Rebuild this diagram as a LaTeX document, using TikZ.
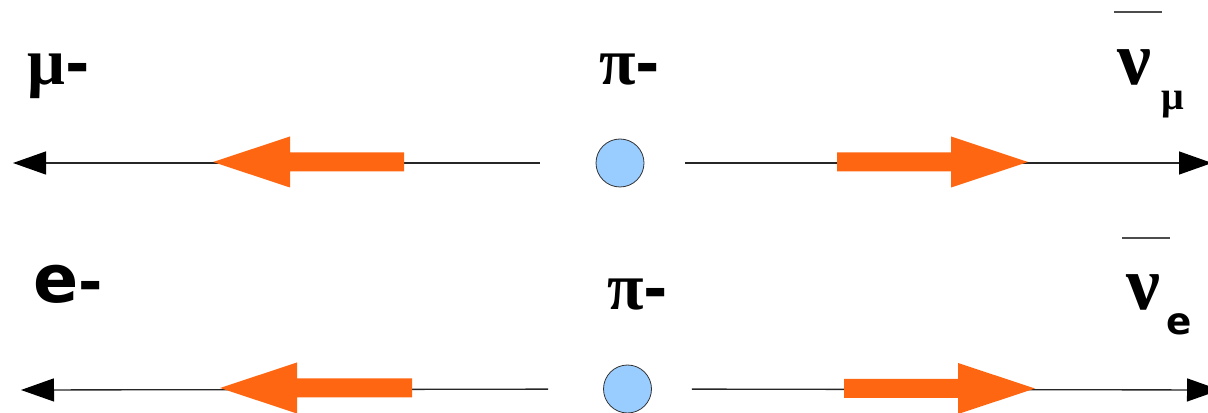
\documentclass[tikz,border=0pt]{standalone}
\usepackage{fontspec}
\setmainfont{DejaVu Sans}
\newfontfamily\grkfont{Liberation Serif}
\usetikzlibrary{arrows.meta}
\definecolor{pulseorange}{RGB}{255,102,17}
\definecolor{pionblue}{RGB}{153,204,255}
\tikzset{
  axis/.style={black!85, line width=1pt, -{Triangle[length=24.75pt,width=17.25pt,black]}},
  pion/.style={circle, draw=black!80, fill=pionblue, minimum size=36pt, inner sep=0pt, line width=0.6pt},
  spin/.style={fill=pulseorange, draw=none},
  lbl/.style={anchor=base west, inner sep=0pt, font=\fontsize{50}{56}\selectfont\bfseries},
  grk/.style={anchor=base west, inner sep=0pt, font=\grkfont\fontsize{57}{60}\selectfont\bfseries},
  sublbl/.style={anchor=base west, inner sep=0pt, font=\fontsize{28}{30}\selectfont\bfseries},
  subgrk/.style={anchor=base west, inner sep=0pt, font=\grkfont\fontsize{30}{32}\selectfont\bfseries},
  overbar/.style={black!70, line width=0.9pt}
}
\begin{document}
\begin{tikzpicture}[x=0.75pt, y=-0.75pt]
    \useasboundingbox (0,0) rectangle (1208,413);

    % Upper decay: pi- -> mu- + anti nu_mu
    \node[pion] (pionTop) at (620,163) {};
    \coordinate (muEnd) at (13,163);
    \coordinate (numuEnd) at (1212,163);
    \draw[axis, shorten <=42pt] (pionTop) -- (muEnd);
    \draw[axis, shorten <=30.75pt] (pionTop) -- (numuEnd);

    % spin arrows (upper)
    \fill[spin] (404,152.5) -- (290,152.5) -- (290,136.5) -- (213,162) -- (290,187.5) -- (290,171.5) -- (404,171.5) -- cycle;
    \fill[spin] (837,152.5) -- (951,152.5) -- (951,136.5) -- (1028,162) -- (951,187.5) -- (951,171.5) -- (837,171.5) -- cycle;

    % labels (upper)
    \node[lbl] (muLbl) at (27,85) {{\grkfont μ}\fontsize{44}{50}\selectfont-};
    \node[lbl] (piTopLbl) at (599,85) {{\grkfont π}\fontsize{44}{50}\selectfont-};
    \node[grk] (numuLbl) at (1117,85) {ν};
    \node[subgrk] (numuSub) at (1161,110) {μ};
    \draw[overbar] (1114,12) -- (1162,12);

    % Lower decay: pi- -> e- + anti nu_e
    \node[pion] (pionBot) at (627.5,389) {};
    \coordinate (eEnd) at (21,390);
    \coordinate (nueEnd) at (1220,390);
    \draw[axis, shorten <=41.25pt] (pionBot) -- (eEnd);
    \draw[axis, shorten <=30pt] (pionBot) -- (nueEnd);

    % spin arrows (lower)
    \fill[spin] (412,378.5) -- (297,378.5) -- (297,362.5) -- (220,388) -- (297,413.5) -- (297,397.5) -- (412,397.5) -- cycle;
    \fill[spin] (844,379) -- (958,379) -- (958,363) -- (1035,388.5) -- (958,414) -- (958,398) -- (844,398) -- cycle;

    % labels (lower)
    \node[lbl] (eLbl) at (33,303) {e\fontsize{44}{50}\selectfont-};
    \node[lbl] (piBotLbl) at (607,310) {{\grkfont π}\fontsize{44}{50}\selectfont-};
    \node[grk] (nueLbl) at (1126,310) {ν};
    \node[sublbl] (nueSub) at (1166,335) {e};
    \draw[overbar] (1122,238) -- (1170,238);
\end{tikzpicture}
\end{document}
